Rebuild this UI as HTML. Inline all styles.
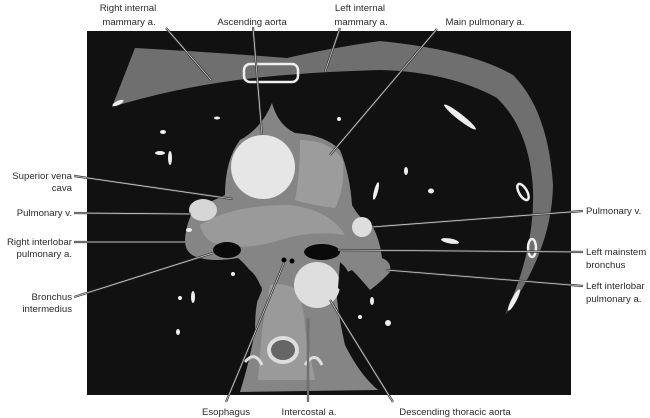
<!DOCTYPE html>
<html><head><meta charset="utf-8"><style>
html,body{margin:0;padding:0;background:#fff;width:650px;height:418px;overflow:hidden}
svg{display:block}
text{font-family:"Liberation Sans",sans-serif;font-size:9.6px;fill:#2a2a2a}
</style></head><body>
<svg width="650" height="418" viewBox="0 0 650 418">
<rect x="87" y="31" width="484" height="364" fill="#111"/>
<!-- chest wall -->
<path d="M112,107 L135,48 Q210,52 287,58 Q330,48 380,41 Q470,50 513,75 Q548,110 553,185 Q552,250 505,315 Q535,250 533,190 Q530,130 497,98 Q450,72 380,70 Q320,72 300,74 Q200,80 112,107 Z" fill="#6f6f6f"/>
<rect x="244" y="64" width="54" height="18" rx="6" fill="none" stroke="#eee" stroke-width="2.5"/>
<ellipse cx="460" cy="117" rx="20" ry="3" transform="rotate(38 460 117)" fill="#eee"/>
<ellipse cx="523" cy="192" rx="9" ry="4" transform="rotate(60 523 192)" fill="none" stroke="#eee" stroke-width="2.5"/>
<ellipse cx="532" cy="248" rx="4" ry="9" fill="none" stroke="#eee" stroke-width="2.5"/>
<ellipse cx="514" cy="300" rx="12" ry="2.5" transform="rotate(-62 514 300)" fill="#eee"/>
<ellipse cx="118" cy="103" rx="6" ry="2" transform="rotate(-25 118 103)" fill="#eee"/>
<!-- mediastinum -->
<path d="M272,103 Q278,125 295,133 Q325,135 340,150 Q350,175 352,205 Q360,220 372,225 Q380,240 382,258 Q392,262 390,272 Q380,283 370,290 Q360,278 352,270 Q340,275 337,285 Q335,300 345,345 Q360,375 378,390 L240,392 Q250,360 255,330 Q255,300 262,288 Q250,268 238,258 Q215,262 200,258 Q185,255 185,240 Q186,222 195,208 Q215,200 225,195 Q225,160 240,140 Q262,128 272,103 Z" fill="#858585"/>
<path d="M270,285 Q285,282 297,290 Q305,310 305,330 L315,380 L258,380 L262,330 Z" fill="#9a9a9a"/>
<ellipse cx="283" cy="350" rx="14" ry="12" fill="#666" stroke="#ddd" stroke-width="4"/>
<path d="M245,362 Q255,350 262,365 M305,365 Q315,350 322,365" stroke="#ddd" stroke-width="3" fill="none"/>
<path d="M200,225 Q230,205 290,205 Q330,210 345,235 Q310,230 280,240 Q250,250 225,245 Q205,245 200,225 Z" fill="#9a9a9a"/>
<circle cx="263" cy="167" r="32" fill="#e6e6e6"/>
<path d="M300,140 Q330,140 343,160 Q345,190 335,208 Q310,205 295,200 Q300,175 300,140 Z" fill="#9c9c9c"/>
<circle cx="317" cy="285" r="23" fill="#dedede"/>
<ellipse cx="203" cy="210" rx="14" ry="11" fill="#d6d6d6"/>
<circle cx="362" cy="227" r="10" fill="#dedede"/>
<ellipse cx="227" cy="250" rx="14" ry="8" fill="#0a0a0a"/>
<ellipse cx="322" cy="252" rx="18" ry="8" fill="#0a0a0a"/>
<circle cx="284" cy="260" r="2.5" fill="#000"/><circle cx="292" cy="261" r="2.5" fill="#000"/>
<path d="M262,290 Q255,270 245,268 Q238,285 235,305 L258,300 Z" fill="#111"/>
<path d="M340,262 Q350,270 352,285 Q345,295 338,288 Z" fill="#111"/>
<!-- lung vessels -->
<g fill="#eee">
<ellipse cx="160" cy="153" rx="5" ry="2"/><ellipse cx="170" cy="158" rx="2" ry="7"/>
<ellipse cx="163" cy="132" rx="3" ry="2"/><ellipse cx="217" cy="118" rx="3" ry="1.5"/>
<ellipse cx="339" cy="119" rx="2" ry="2"/><ellipse cx="376" cy="191" rx="2" ry="9" transform="rotate(15 376 191)"/>
<ellipse cx="431" cy="191" rx="3" ry="2.5"/><ellipse cx="406" cy="171" rx="2" ry="4"/>
<ellipse cx="450" cy="241" rx="9" ry="2.5" transform="rotate(10 450 241)"/>
<ellipse cx="193" cy="297" rx="2" ry="6"/><ellipse cx="388" cy="323" rx="3" ry="3"/><ellipse cx="360" cy="317" rx="2" ry="2"/>
<ellipse cx="233" cy="274" rx="2" ry="2"/><ellipse cx="178" cy="332" rx="2" ry="3"/><ellipse cx="180" cy="298" rx="2" ry="2"/>
<ellipse cx="372" cy="301" rx="2" ry="4"/><ellipse cx="189" cy="230" rx="3" ry="2"/>
</g>
<!-- leader lines -->
<g stroke="#333" stroke-width="2.2" fill="none">
<path d="M166,28 L211,80 M253,27 L262,135 M340,28 L325,72 M437,29 L330,155 M74,176 L233,199 M74,213 L191,214 M74,242 L185,242 M74,297 L213,253 M583,211 L372,227 M583,252 L338,250 M583,286 L386,270 M226,402 L284,263 M308,402 L308,318 M393,402 L330,300"/>
</g>
<g stroke="#ccc" stroke-width="0.8" fill="none">
<path d="M166,28 L211,80 M253,27 L262,135 M340,28 L325,72 M437,29 L330,155 M74,176 L233,199 M74,213 L191,214 M74,242 L185,242 M74,297 L213,253 M583,211 L372,227 M583,252 L338,250 M583,286 L386,270 M226,402 L284,263 M308,402 L308,318 M393,402 L330,300"/>
</g>
<!-- labels -->
<g text-anchor="middle">
<text x="128" y="11">Right internal</text><text x="129" y="25">mammary a.</text>
<text x="252" y="25">Ascending aorta</text>
<text x="360" y="11">Left internal</text><text x="361" y="25">mammary a.</text>
<text x="485" y="25">Main pulmonary a.</text>
<text x="226" y="415">Esophagus</text>
<text x="309" y="415">Intercostal a.</text>
<text x="455" y="415">Descending thoracic aorta</text>
</g>
<g text-anchor="end">
<text x="72" y="179">Superior vena</text><text x="72" y="191">cava</text>
<text x="72" y="216">Pulmonary v.</text>
<text x="72" y="245">Right interlobar</text><text x="72" y="257">pulmonary a.</text>
<text x="72" y="300">Bronchus</text><text x="72" y="312">intermedius</text>
</g>
<g>
<text x="586" y="214">Pulmonary v.</text>
<text x="586" y="255">Left mainstem</text><text x="586" y="268">bronchus</text>
<text x="586" y="289">Left interlobar</text><text x="586" y="302">pulmonary a.</text>
</g>
</svg>
</body></html>
